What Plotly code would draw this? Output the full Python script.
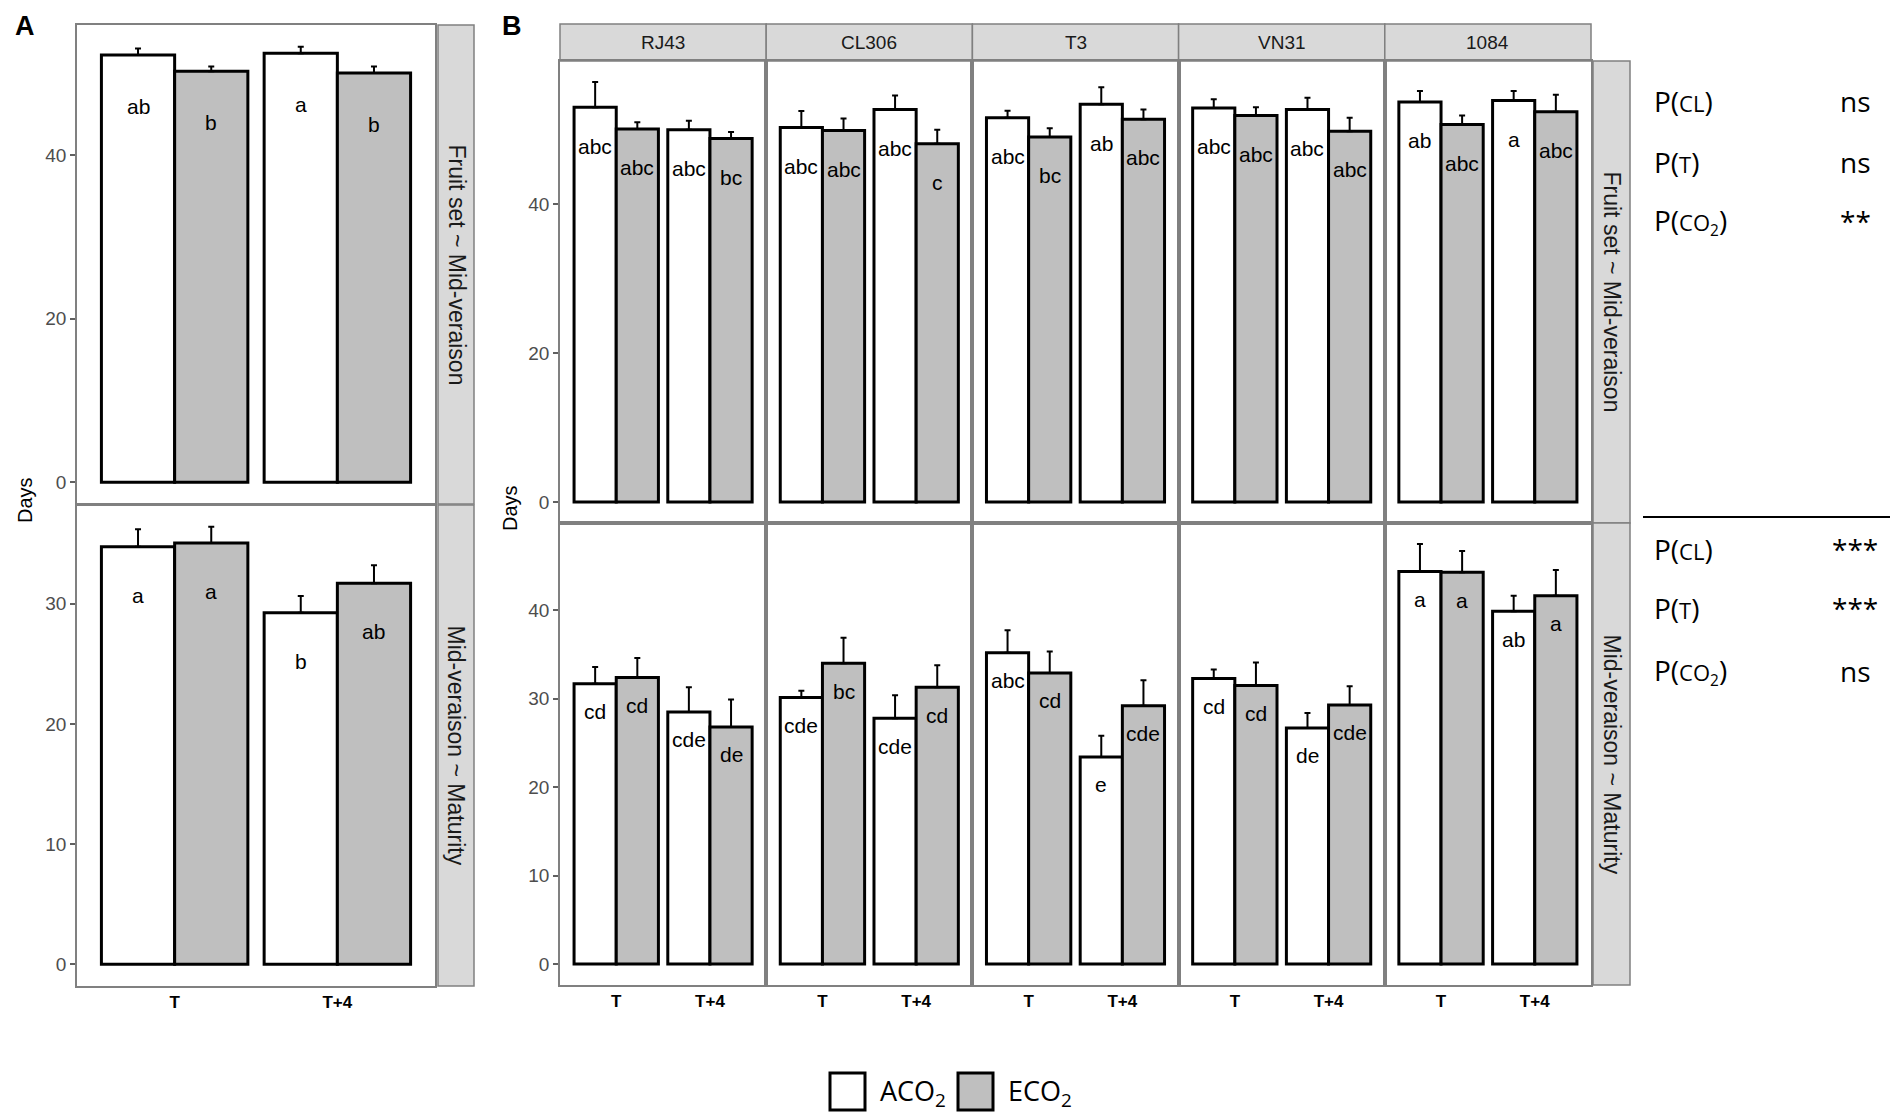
import plotly.graph_objects as go

# ---- data (days) ----
groups = ["T", "T+4"]
cultivars = ["RJ43", "CL306", "T3", "VN31", "1084"]
stages = ["Fruit set ~ Mid-veraison", "Mid-veraison ~ Maturity"]

# panel A, pooled over cultivars: [T, T+4]
a_fs_aco2 = [52.3, 52.5]
a_fs_aco2_se = [0.8, 0.8]
a_fs_eco2 = [50.3, 50.1]
a_fs_eco2_se = [0.6, 0.8]
a_fs_lab_aco2 = ["ab", "a"]
a_fs_lab_eco2 = ["b", "b"]

a_mm_aco2 = [34.75, 29.25]
a_mm_aco2_se = [1.45, 1.4]
a_mm_eco2 = [35.05, 31.7]
a_mm_eco2_se = [1.35, 1.5]
a_mm_lab_aco2 = ["a", "b"]
a_mm_lab_eco2 = ["a", "ab"]

# panel B, one [T, T+4] pair per cultivar
b_fs_aco2 = [[53.0, 50.0], [50.3, 52.7], [51.6, 53.4], [52.9, 52.7], [53.7, 53.9]]
b_fs_aco2_se = [[3.4, 1.2], [2.2, 1.9], [0.95, 2.3], [1.2, 1.6], [1.5, 1.3]]
b_fs_eco2 = [[50.1, 48.8], [49.9, 48.1], [49.0, 51.4], [51.9, 49.8], [50.7, 52.4]]
b_fs_eco2_se = [[0.9, 0.9], [1.6, 1.9], [1.2, 1.3], [1.1, 1.8], [1.2, 2.3]]
b_fs_lab_aco2 = [["abc", "abc"], ["abc", "abc"], ["abc", "ab"], ["abc", "abc"], ["ab", "a"]]
b_fs_lab_eco2 = [["abc", "bc"], ["abc", "c"], ["bc", "abc"], ["abc", "abc"], ["abc", "abc"]]

b_mm_aco2 = [[31.7, 28.5], [30.15, 27.8], [35.2, 23.4], [32.3, 26.7], [44.4, 39.9]]
b_mm_aco2_se = [[1.9, 2.8], [0.75, 2.6], [2.55, 2.4], [1.0, 1.7], [3.1, 1.75]]
b_mm_eco2 = [[32.4, 26.8], [34.0, 31.3], [32.9, 29.2], [31.5, 29.3], [44.3, 41.65]]
b_mm_eco2_se = [[2.2, 3.1], [2.9, 2.5], [2.45, 2.9], [2.6, 2.1], [2.4, 2.9]]
b_mm_lab_aco2 = [["cd", "cde"], ["cde", "cde"], ["abc", "e"], ["cd", "de"], ["a", "ab"]]
b_mm_lab_eco2 = [["cd", "de"], ["bc", "cd"], ["cd", "cde"], ["cd", "cde"], ["a", "a"]]

p_names = ["P(<span style='font-size:22px'>CL</span>)",
           "P(<span style='font-size:22px'>T</span>)",
           "P(<span style='font-size:22px'>CO<sub>2</sub></span>)"]
p_fs = ["ns", "ns", "**"]
p_mm = ["***", "***", "ns"]

# ---- style ----
# page body has an 8px margin, so the figure is 8px smaller and positions
# below are given in screen pixels of the 1898x1118 window
OFF = 8
W, H = 1898 - OFF, 1118 - OFF
GREY = "#bfbfbf"
STRIP = "#d9d9d9"
FRAME = "#808080"
FONT = "Liberation Sans, Arial, sans-serif"
PFONT = "Open Sans, Noto Sans, sans-serif"


def px(x):
    return (x - OFF) / W


def py(y):
    return 1 - (y - OFF) / H


def row_range(*series):
    top = max(v + e for vals, ses in series for v, e in zip(vals, ses))
    return [-0.05 * top, 1.05 * top]


fig = go.Figure()
layout = {}
annotations = []
shapes = []
count = [0]


def text(x, y, s, size, color="black", family=FONT, angle=0, xanchor="center"):
    annotations.append(dict(x=px(x), y=py(y), xref="paper", yref="paper", text=s,
                            textangle=angle, xanchor=xanchor, yanchor="middle",
                            showarrow=False,
                            font=dict(size=size, color=color, family=family)))


def add_panel(xdom, ydom, aco2, aco2_se, eco2, eco2_se, lab_a, lab_e,
              yrange, dtick, show_y, show_x, nudge):
    count[0] += 1
    n = count[0]
    xa = "x" if n == 1 else "x%d" % n
    ya = "y" if n == 1 else "y%d" % n
    for name, vals, se, color, labs, off in [
        ("ACO2", aco2, aco2_se, "white", lab_a, -0.225),
        ("ECO2", eco2, eco2_se, GREY, lab_e, 0.225),
    ]:
        fig.add_trace(go.Bar(
            x=[0, 1], y=vals, name=name, offsetgroup=name,
            xaxis=xa, yaxis=ya, showlegend=False,
            marker=dict(color=color, line=dict(color="black", width=3)),
            error_y=dict(type="data", array=se, arrayminus=[0] * len(se),
                         symmetric=False, color="black", thickness=2, width=3),
        ))
        for i, (v, lab) in enumerate(zip(vals, labs)):
            annotations.append(dict(
                x=i + off, y=v - nudge, xref=xa, yref=ya, text=lab,
                xanchor="center", yanchor="middle",
                showarrow=False, font=dict(size=21, color="black", family=FONT)))
    layout["xaxis" if n == 1 else "xaxis%d" % n] = dict(
        domain=xdom, anchor=ya, range=[-0.6, 1.6],
        tickvals=[0, 1], ticktext=["<b>%s</b>" % g for g in groups],
        showticklabels=show_x, ticks="",
        tickfont=dict(size=17, color="black", family=FONT),
        showline=True, mirror=True, linecolor=FRAME, linewidth=1.5,
        showgrid=False, zeroline=False)
    layout["yaxis" if n == 1 else "yaxis%d" % n] = dict(
        domain=ydom, anchor=xa, range=yrange, dtick=dtick,
        showticklabels=show_y, ticks="outside" if show_y else "",
        ticklen=5, tickwidth=1.5, tickcolor="#606060",
        tickfont=dict(size=19, color="#4d4d4d", family=FONT),
        showline=True, mirror=True, linecolor=FRAME, linewidth=1.5,
        showgrid=False, zeroline=False)


# panel A geometry
ax0, ax1 = 77, 435
a_rows = [(25, 504), (505, 986)]
# panel B geometry
bx0, bw = 560, 206.2
b_rows = [(61, 523), (523, 985)]

ra_fs = row_range((a_fs_aco2, a_fs_aco2_se), (a_fs_eco2, a_fs_eco2_se))
ra_mm = row_range((a_mm_aco2, a_mm_aco2_se), (a_mm_eco2, a_mm_eco2_se))
add_panel([px(ax0), px(ax1)], [py(a_rows[0][1]), py(a_rows[0][0])],
          a_fs_aco2, a_fs_aco2_se, a_fs_eco2, a_fs_eco2_se,
          a_fs_lab_aco2, a_fs_lab_eco2, ra_fs, 20, True, False, 6.3)
add_panel([px(ax0), px(ax1)], [py(a_rows[1][1]), py(a_rows[1][0])],
          a_mm_aco2, a_mm_aco2_se, a_mm_eco2, a_mm_eco2_se,
          a_mm_lab_aco2, a_mm_lab_eco2, ra_mm, 10, True, True, 4.05)

rb_fs = row_range(*[(b_fs_aco2[c], b_fs_aco2_se[c]) for c in range(5)],
                  *[(b_fs_eco2[c], b_fs_eco2_se[c]) for c in range(5)])
rb_mm = row_range(*[(b_mm_aco2[c], b_mm_aco2_se[c]) for c in range(5)],
                  *[(b_mm_eco2[c], b_mm_eco2_se[c]) for c in range(5)])
for c in range(5):
    xd = [px(bx0 + c * bw), px(bx0 + (c + 1) * bw)]
    add_panel(xd, [py(b_rows[0][1]), py(b_rows[0][0])],
              b_fs_aco2[c], b_fs_aco2_se[c], b_fs_eco2[c], b_fs_eco2_se[c],
              b_fs_lab_aco2[c], b_fs_lab_eco2[c], rb_fs, 20, c == 0, False, 5.2)
    add_panel(xd, [py(b_rows[1][1]), py(b_rows[1][0])],
              b_mm_aco2[c], b_mm_aco2_se[c], b_mm_eco2[c], b_mm_eco2_se[c],
              b_mm_lab_aco2[c], b_mm_lab_eco2[c], rb_mm, 10, c == 0, True, 3.15)


def strip(x0, y0, x1, y1, s, angle, size):
    shapes.append(dict(type="rect", xref="paper", yref="paper",
                       x0=px(x0), x1=px(x1), y0=py(y1), y1=py(y0),
                       fillcolor=STRIP, line=dict(color=FRAME, width=1.5), layer="below"))
    text((x0 + x1) / 2, (y0 + y1) / 2, s, size, color="#1a1a1a", angle=angle)


# column strips for B
for c, name in enumerate(cultivars):
    strip(bx0 + c * bw, 24, bx0 + (c + 1) * bw, 61, name, 0, 19)
# row strips
for r, name in enumerate(stages):
    strip(438, a_rows[r][0], 474, a_rows[r][1], name, 90, 23)
    strip(1593, b_rows[r][0], 1630, b_rows[r][1], name, 90, 23)

# panel letters and axis titles
text(25, 26, "<b>A</b>", 27)
text(512, 26, "<b>B</b>", 27)
text(25, 500, "Days", 20, angle=-90)
text(510, 508, "Days", 20, angle=-90)

# significance table on the right
for rows, ys in [(p_fs, [101, 162, 221]), (p_mm, [549, 608, 671])]:
    for name, val, y in zip(p_names, rows, ys):
        text(1652, y, name, 28, family=PFONT, xanchor="left")
        text(1855, y, val, 28, family=PFONT)
shapes.append(dict(type="line", xref="paper", yref="paper",
                   x0=px(1643), x1=px(1893), y0=py(517), y1=py(517),
                   line=dict(color="black", width=2)))

# legend
for x0, fill, label in [(830, "white", "ACO<sub>2</sub>"), (958, GREY, "ECO<sub>2</sub>")]:
    shapes.append(dict(type="rect", xref="paper", yref="paper",
                       x0=px(x0), x1=px(x0 + 35), y0=py(1110), y1=py(1073),
                       fillcolor=fill, line=dict(color="black", width=3)))
    text(x0 + 48, 1092, label, 27, family=PFONT, xanchor="left")

fig.update_layout(
    width=W, height=H, margin=dict(l=0, r=0, t=0, b=0),
    paper_bgcolor="white", plot_bgcolor="white",
    barmode="group", bargap=0.1, bargroupgap=0,
    font=dict(family=FONT),
    annotations=annotations, shapes=shapes, **layout)

fig.write_html("out.html")
